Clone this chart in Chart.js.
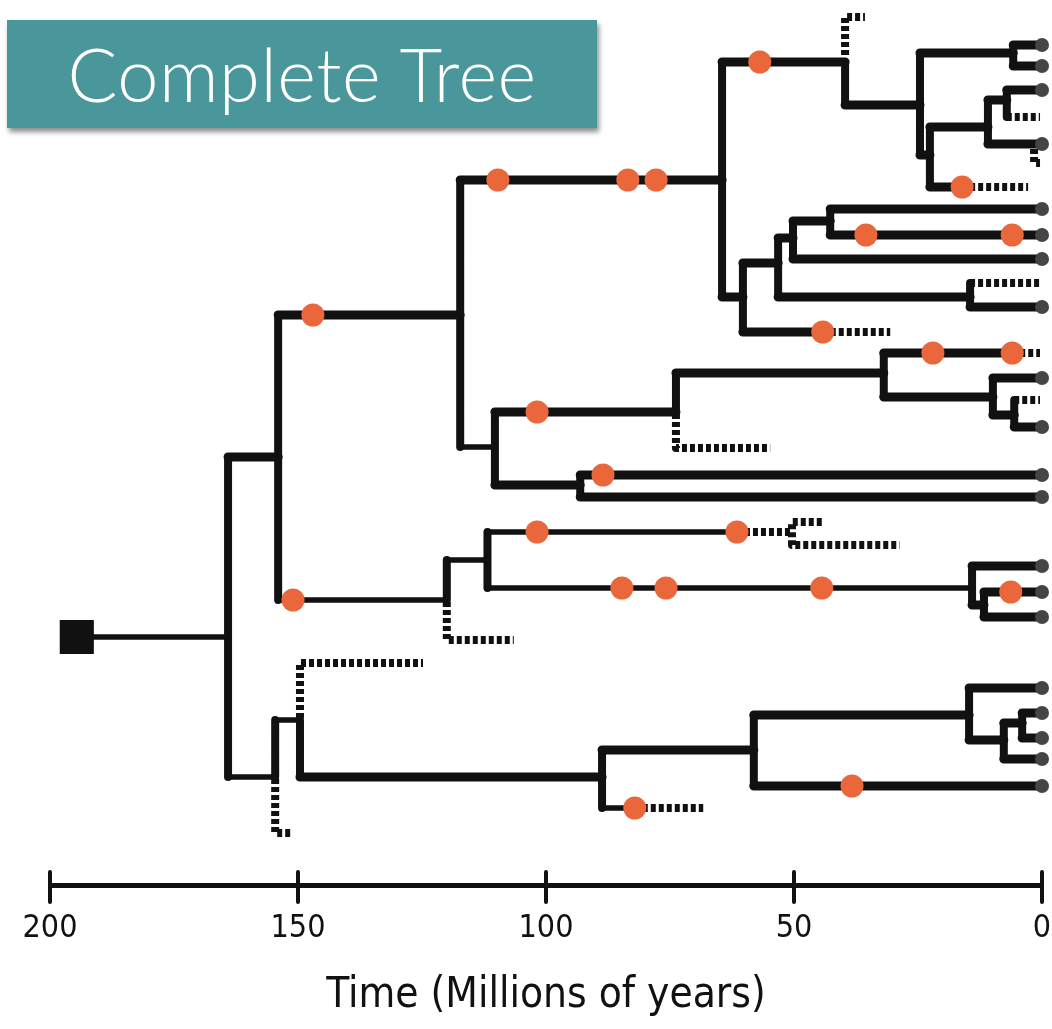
<!DOCTYPE html>
<html>
<head>
<meta charset="utf-8">
<script src="https://cdn.jsdelivr.net/npm/chart.js@4.4.1/dist/chart.umd.min.js"></script>
<style>
  html, body { margin: 0; padding: 0; background: #fff; }
  #wrap { position: relative; width: 1052px; height: 1029px; }
  #banner {
    position: absolute; left: 7px; top: 20px; width: 590px; height: 108px;
    background: #4a979b; box-shadow: 2px 4px 5px rgba(0,0,0,0.45);
    color: #fff; font-family: Lato, Roboto, sans-serif; font-weight: 300;
    font-size: 74px; line-height: 108px; text-align: center; letter-spacing: 0.5px;
  }
</style>
</head>
<body>
<div id="wrap">
  <canvas id="treeChart" width="1052" height="1029"></canvas>
  <div id="banner">Complete Tree</div>
</div>
<script>
// time axis, millions of years before present
const axisTicks = [0, 50, 100, 150, 200];

// root of the tree [age, lane]
const rootNode = [194.6, 637];

// main branches [from age, to age, lane]
const thickBranches = [
  [164.1, 154, 457], [154, 117.3, 315], [117.3, 64.5, 180],
  [64.5, 39.7, 62], [39.7, 24.6, 105], [24.6, 5.8, 53], [5.8, 0, 45], [5.8, 0, 66],
  [24.6, 22.6, 155], [22.6, 10.9, 127], [10.9, 7.1, 100], [7.1, 0, 90], [10.9, 0, 144],
  [22.6, 16.1, 187],
  [64.5, 60.3, 297], [60.3, 53.2, 263], [53.2, 14.5, 297], [14.5, 0, 307],
  [53.2, 50.2, 238], [50.2, 0, 259], [50.2, 42.7, 221], [42.7, 0, 209], [42.7, 0, 235],
  [60.3, 44.2, 332],
  [110.3, 73.8, 412], [73.8, 31.9, 373], [31.9, 6.0, 353], [31.9, 9.9, 397],
  [9.9, 0, 378], [9.9, 5.6, 415], [5.6, 0, 427],
  [110.3, 93.1, 485], [93.1, 0, 475], [93.1, 0, 497],
  [14.1, 0, 566], [14.1, 11.7, 605], [11.7, 0, 592], [11.7, 0, 617],
  [149.6, 88.7, 777], [88.7, 58.1, 750], [58.1, 14.7, 715], [14.7, 0, 688],
  [14.7, 7.7, 740], [7.7, 4.0, 723], [4.0, 0, 713], [4.0, 0, 738], [7.7, 0, 759],
  [58.1, 0, 786]
];

// thinner branches [from age, to age, lane]
const thinBranches = [
  [194.6, 164.1, 637], [164.1, 154.6, 777], [154, 120, 600], [117.3, 110.3, 447],
  [120, 111.8, 560], [111.8, 61.5, 532], [111.8, 14.1, 588],
  [154.6, 149.6, 720], [88.7, 82.1, 808]
];

// node connectors [age, top lane, bottom lane]
const nodeLinks = [
  [164.1, 457, 777], [154, 315, 600], [117.3, 180, 447], [64.5, 62, 297],
  [39.7, 62, 105], [24.6, 53, 155], [5.8, 45, 66], [22.6, 127, 187],
  [10.9, 100, 144], [7.1, 90, 117],
  [60.3, 263, 332], [53.2, 238, 297], [50.2, 221, 259], [42.7, 209, 235], [14.5, 283, 307],
  [110.3, 412, 485], [73.8, 373, 412], [31.9, 353, 397], [9.9, 378, 415], [5.6, 400, 427],
  [93.1, 475, 497], [120, 560, 600], [111.8, 532, 588], [14.1, 566, 605], [11.7, 592, 617],
  [154.6, 720, 777], [149.6, 720, 777], [88.7, 750, 808], [58.1, 715, 786],
  [14.7, 688, 740], [7.7, 723, 759], [4.0, 713, 738]
];

// extinct lineages, drawn dashed [[age, lane], ...]
const extinctLines = [
  [[39.7, 55], [39.7, 17], [35.7, 17]],
  [[7.1, 117], [0.4, 117]],
  [[1.6, 149], [1.6, 163], [0.4, 163]],
  [[16.1, 187], [2.8, 187]],
  [[14.5, 283], [0.2, 283]],
  [[44.2, 332], [30.6, 332]],
  [[6.0, 353], [0.4, 353]],
  [[73.8, 414], [73.8, 448], [54.8, 448]],
  [[5.6, 400], [0.4, 400]],
  [[120, 602], [120, 640], [106.5, 640]],
  [[61.5, 532], [50.4, 532]],
  [[44.4, 522], [50.4, 522], [50.4, 545], [28.7, 545]],
  [[154.6, 779], [154.6, 833], [151.2, 833]],
  [[149.6, 718], [149.6, 663], [124.8, 663]],
  [[82.1, 808], [68.3, 808]]
];

// fossils [age, lane]
const fossils = [
  [147, 315], [151, 600], [109.7, 180], [83.5, 180], [77.8, 180], [56.9, 62],
  [16.1, 187], [35.5, 235], [6.0, 235], [44.2, 332], [22.0, 353], [6.0, 353],
  [101.8, 412], [88.5, 475], [101.8, 532], [61.5, 532], [84.7, 588], [75.8, 588],
  [44.4, 588], [6.3, 592], [82.1, 808], [38.3, 786]
];

// living species (lanes at age 0)
const livingTips = [45, 66, 90, 144, 209, 235, 259, 307, 378, 427, 475, 497,
  566, 592, 617, 688, 713, 738, 759, 786];

function horiz(list) {
  const pts = [];
  list.forEach(([a, b, y]) => pts.push({ x: a, y }, { x: b, y }, { x: b, y: null }));
  return pts;
}
function vert(list) {
  const pts = [];
  list.forEach(([t, a, b]) => pts.push({ x: t, y: a }, { x: t, y: b }, { x: t, y: null }));
  return pts;
}
function polys(list) {
  const pts = [];
  list.forEach(line => {
    line.forEach(([t, y]) => pts.push({ x: t, y }));
    pts.push({ x: line[line.length - 1][0], y: null });
  });
  return pts;
}

const ink = '#111';
const narrow = "'Liberation Sans Narrow', 'DejaVu Sans Condensed', sans-serif";

// tick marks that cross the axis line
const crossTicks = {
  id: 'crossTicks',
  afterDraw(chart) {
    const xs = chart.scales.x, ctx = chart.ctx, y = chart.chartArea.bottom + 2;
    ctx.save();
    ctx.strokeStyle = ink;
    ctx.lineWidth = 4;
    ctx.lineCap = 'round';
    xs.ticks.forEach(tk => {
      const px = xs.getPixelForValue(tk.value);
      ctx.beginPath();
      ctx.moveTo(px, y - 15);
      ctx.lineTo(px, y + 15);
      ctx.stroke();
    });
    ctx.restore();
  }
};

const lineBase = { showLine: true, pointRadius: 0, borderColor: ink, borderCapStyle: 'round', borderJoinStyle: 'round', clip: false, order: 3 };

new Chart(document.getElementById('treeChart'), {
  type: 'scatter',
  data: {
    datasets: [
      { ...lineBase, data: horiz(thickBranches), borderWidth: 9 },
      { ...lineBase, data: horiz(thinBranches), borderWidth: 5.5 },
      { ...lineBase, data: vert(nodeLinks), borderWidth: 8 },
      { ...lineBase, data: polys(extinctLines), borderWidth: 8, borderDash: [5, 3], borderCapStyle: 'butt', order: 4 },
      { data: fossils.map(([t, y]) => ({ x: t, y })), pointRadius: 11.5, pointBackgroundColor: '#e9673b',
        pointBorderWidth: 0, clip: false, order: 1 },
      { data: livingTips.map(y => ({ x: 0, y })), pointRadius: 7, pointBackgroundColor: '#454545',
        pointBorderWidth: 0, clip: false, order: 2 },
      { data: [{ x: rootNode[0], y: rootNode[1] }], pointStyle: 'rect', pointRadius: 22,
        pointBackgroundColor: ink, pointBorderColor: ink, pointBorderWidth: 3, clip: false, order: 1 }
    ]
  },
  options: {
    responsive: false,
    animation: false,
    events: [],
    layout: { autoPadding: false, padding: { left: 50, right: 10, top: 0, bottom: 0 } },
    plugins: { legend: { display: false }, tooltip: { enabled: false } },
    scales: {
      x: {
        type: 'linear', min: 0, max: 200, reverse: true,
        afterBuildTicks: s => { s.ticks = axisTicks.map(v => ({ value: v })); },
        afterFit: s => { s.height = 144; },
        grid: { display: false, drawTicks: false },
        border: { display: true, color: ink, width: 5 },
        ticks: { color: ink, padding: 24, font: { family: narrow, size: 32 } },
        title: { display: true, text: 'Time (Millions of years)', color: ink,
          font: { family: narrow, size: 42 }, padding: { top: 0, bottom: 8 } }
      },
      y: { type: 'linear', min: 0, max: 885, reverse: true, display: false }
    }
  },
  plugins: [crossTicks]
});
</script>
</body>
</html>
